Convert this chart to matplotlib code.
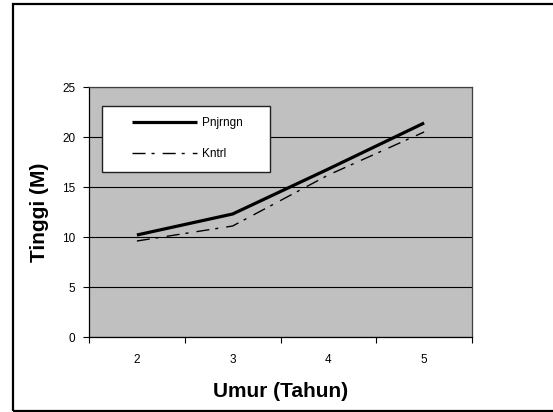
import matplotlib
matplotlib.use("Agg")
import matplotlib.pyplot as plt
from matplotlib.patches import Rectangle
import numpy as np

umur = ['2', '3', '4', '5']
pnjrngn = [10.2, 12.3, 16.8, 21.4]
kntrl = [9.6, 11.1, 16.2, 20.5]
y_ticks = [0, 5, 10, 15, 20, 25]

plt.rcParams['font.family'] = ['Liberation Sans', 'DejaVu Sans']

W, H = 553, 412
fig = plt.figure(figsize=(W / 100, H / 100), dpi=100)

# outer border
fig.patches.append(Rectangle((12.5 / W, 1 - 410.5 / H), 1.2, (410.5 - 3.5) / H,
                             transform=fig.transFigure, fill=False,
                             edgecolor='black', linewidth=1.6, zorder=0))

left, right, top, bottom = 89, 472, 87, 337
ax = fig.add_axes([left / W, 1 - bottom / H, (right - left) / W, (bottom - top) / H])
ax.set_facecolor('#c0c0c0')

x = np.arange(len(umur))
ax.plot(x, pnjrngn, color='black', linewidth=2.3, label='Pnjrngn', zorder=3,
        solid_capstyle='butt', solid_joinstyle='miter')
ax.plot(x, kntrl, color='black', linewidth=1.0, linestyle=(0, (9.4, 4.3, 2.2, 5.8)),
        label='Kntrl', zorder=3)

ax.set_xlim(-0.5, len(umur) - 0.5)
ax.set_ylim(0, 25)
ax.set_yticks(y_ticks)
ax.set_yticklabels([str(v) for v in y_ticks], fontsize=8.5)
ax.yaxis.grid(True, color='black', linewidth=0.8)
ax.set_axisbelow(True)

ax.set_xticks(np.arange(-0.5, len(umur), 1.0))
ax.set_xticklabels([])
ax.set_xticks(x, minor=True)
ax.set_xticklabels(umur, minor=True, fontsize=8.5)
ax.tick_params(axis='x', which='major', direction='out', length=4, width=0.8)
ax.tick_params(axis='x', which='minor', length=0, pad=12)
ax.tick_params(axis='y', direction='out', length=4, width=0.8, pad=6)

for s in ax.spines.values():
    s.set_color('black')
    s.set_linewidth(0.9)
ax.spines['top'].set_color('#404040')
ax.spines['right'].set_color('#404040')

ax.set_xlabel('Umur (Tahun)', fontsize=15, fontweight='bold', labelpad=12)
ax.set_ylabel('Tinggi (M)', fontsize=15, fontweight='bold', labelpad=9)

# legend box
bx0 = (102 - left) / (right - left)
bx1 = (270 - left) / (right - left)
by1 = (bottom - 106) / (bottom - top)
by0 = (bottom - 172) / (bottom - top)
ax.add_patch(Rectangle((bx0, by0), bx1 - bx0, by1 - by0, transform=ax.transAxes,
                       facecolor='white', edgecolor='#202020', linewidth=1.0, zorder=5))
leg = ax.legend(loc='upper left', bbox_to_anchor=((132 - left) / (right - left), (bottom - 117) / (bottom - top)),
                frameon=False, borderpad=0, borderaxespad=0, fontsize=8.5,
                handlelength=5.5, handletextpad=0.4, labelspacing=1.65)
leg.set_zorder(6)

fig.savefig('out.png', dpi=100)
